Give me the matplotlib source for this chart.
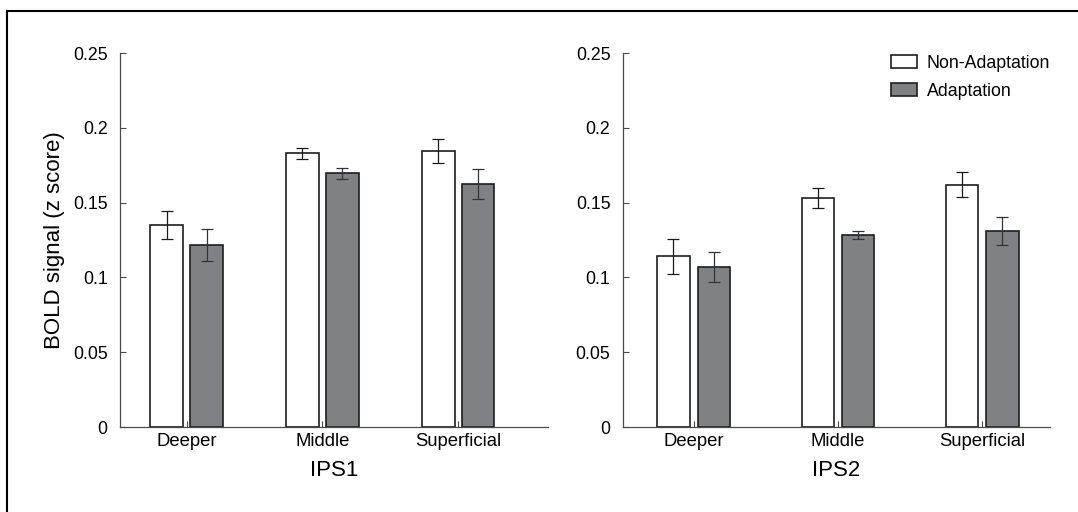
import numpy as np
import matplotlib
matplotlib.use("Agg")
import matplotlib.pyplot as plt
from matplotlib.lines import Line2D

plt.rcParams["font.family"] = ["Liberation Sans", "DejaVu Sans"]

layers = ["Deeper", "Middle", "Superficial"]
regions = ["IPS1", "IPS2"]

# mean BOLD signal (z score) and error (half length of the bar)
ips1_non_adapt = [0.135, 0.183, 0.1845]
ips1_non_adapt_err = [0.0095, 0.0038, 0.0083]
ips1_adapt = [0.1215, 0.1695, 0.1625]
ips1_adapt_err = [0.0108, 0.0035, 0.010]

ips2_non_adapt = [0.114, 0.153, 0.162]
ips2_non_adapt_err = [0.012, 0.0067, 0.0085]
ips2_adapt = [0.107, 0.1285, 0.131]
ips2_adapt_err = [0.0103, 0.0025, 0.0095]

yticks = [0, 0.05, 0.1, 0.15, 0.2, 0.25]
ytick_labels = ["0", "0.05", "0.1", "0.15", "0.2", "0.25"]

W, H = 1078, 512
fig = plt.figure(figsize=(W / 100, H / 100), dpi=100)

GREY = "#808185"
EDGE = "#1e1e1e"
AXCOL = "#4a4a4a"


def draw_panel(ax, non, non_err, ad, ad_err, xlabel, xlim, width, off):
    x = np.arange(1, len(layers) + 1)
    ax.bar(x - off, non, width, color="white", edgecolor=EDGE, linewidth=1.2,
           label="Non-Adaptation", zorder=2)
    ax.bar(x + off, ad, width, color=GREY, edgecolor=EDGE, linewidth=1.2,
           label="Adaptation", zorder=2)
    ax.errorbar(x - off, non, yerr=non_err, fmt="none", ecolor="#1a1a1a",
                elinewidth=0.9, capsize=4, capthick=0.9, zorder=3)
    ax.errorbar(x + off, ad, yerr=ad_err, fmt="none", ecolor="#333333",
                elinewidth=0.9, capsize=4, capthick=0.9, zorder=3)

    ax.set_xlim(*xlim)
    ax.set_ylim(0, 0.25)
    ax.set_xticks(x)
    ax.set_xticklabels(layers, fontsize=13.3)
    ax.set_yticks(yticks)
    ax.set_yticklabels(ytick_labels, fontsize=12.8)
    ax.tick_params(axis="y", direction="in", length=4, width=0.8, color=AXCOL, pad=9)
    ax.tick_params(axis="x", direction="in", length=4, width=0.8, color=AXCOL, pad=4.5)
    for s in ["top", "right"]:
        ax.spines[s].set_visible(False)
    for s in ["left", "bottom"]:
        ax.spines[s].set_color(AXCOL)
        ax.spines[s].set_linewidth(0.9)
    ax.set_xlabel(xlabel, fontsize=16)
    ax.xaxis.set_label_coords(0.5, -0.088)


ax1 = fig.add_axes([120 / W, (H - 427) / H, 428 / W, 374 / H])
draw_panel(ax1, ips1_non_adapt, ips1_non_adapt_err, ips1_adapt, ips1_adapt_err,
           regions[0], (0.51, 3.66), 0.238, 0.147)
ax1.set_ylabel("BOLD signal (z score)", fontsize=16)
ax1.yaxis.set_label_coords(-0.128, 0.5)

ax2 = fig.add_axes([623 / W, (H - 427) / H, 427 / W, 374 / H])
draw_panel(ax2, ips2_non_adapt, ips2_non_adapt_err, ips2_adapt, ips2_adapt_err,
           regions[1], (0.51, 3.47), 0.224, 0.14)
ax2.legend(loc="upper right", bbox_to_anchor=(1.0, 0.995), frameon=False,
           fontsize=12.8, handlelength=1.45, handleheight=0.75, handletextpad=0.55,
           labelspacing=0.62, borderaxespad=0, borderpad=0)

# frame lines of the original figure (top and left)
fig.add_artist(Line2D([7 / W, 1], [1 - 11 / H, 1 - 11 / H], color="black", linewidth=1.5))
fig.add_artist(Line2D([7 / W, 7 / W], [0, 1 - 11 / H], color="black", linewidth=1.5))

fig.savefig("out.png", dpi=100)
